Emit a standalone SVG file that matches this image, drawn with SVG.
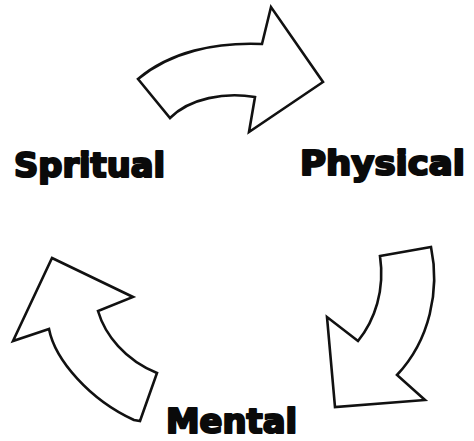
<svg xmlns="http://www.w3.org/2000/svg" width="474" height="441" viewBox="0 0 474 441">
<style>
.lbl{font-family:"DejaVu Sans","Liberation Sans",sans-serif;font-weight:bold;font-size:33px;fill:#0a0a0a;stroke:#0a0a0a;stroke-width:2.2px;stroke-linejoin:round}
.arr{fill:#ffffff;stroke:#111111;stroke-width:2.6;stroke-linejoin:miter}
</style>
<rect width="474" height="441" fill="#ffffff"/>
<g id="connectors">
<path class="arr" d="M138,79 C170,52 215,42 262,44 L271,7 L323,82 L249,132 L255,97 C225,92 190,98 170,118 Z"/>
<path class="arr" d="M380,256 L431,247 C440,290 430,340 397,375 L425,400 L335,407 L327,317 L358,341 C375,320 385,290 380,256 Z"/>
<path class="arr" d="M52,258 L133,297 L98,311 C105,335 125,360 157,373 L140,421 L134,420 C90,400 55,360 49,329 L13,341 Z"/>
</g>
<g id="node-spritual"><text class="lbl" x="14" y="177" textLength="151" lengthAdjust="spacingAndGlyphs">Spritual</text></g>
<g id="node-physical"><text class="lbl" x="300" y="175" textLength="165" lengthAdjust="spacingAndGlyphs">Physical</text></g>
<g id="node-mental"><text class="lbl" x="166" y="433" textLength="131" lengthAdjust="spacingAndGlyphs">Mental</text></g>
</svg>
